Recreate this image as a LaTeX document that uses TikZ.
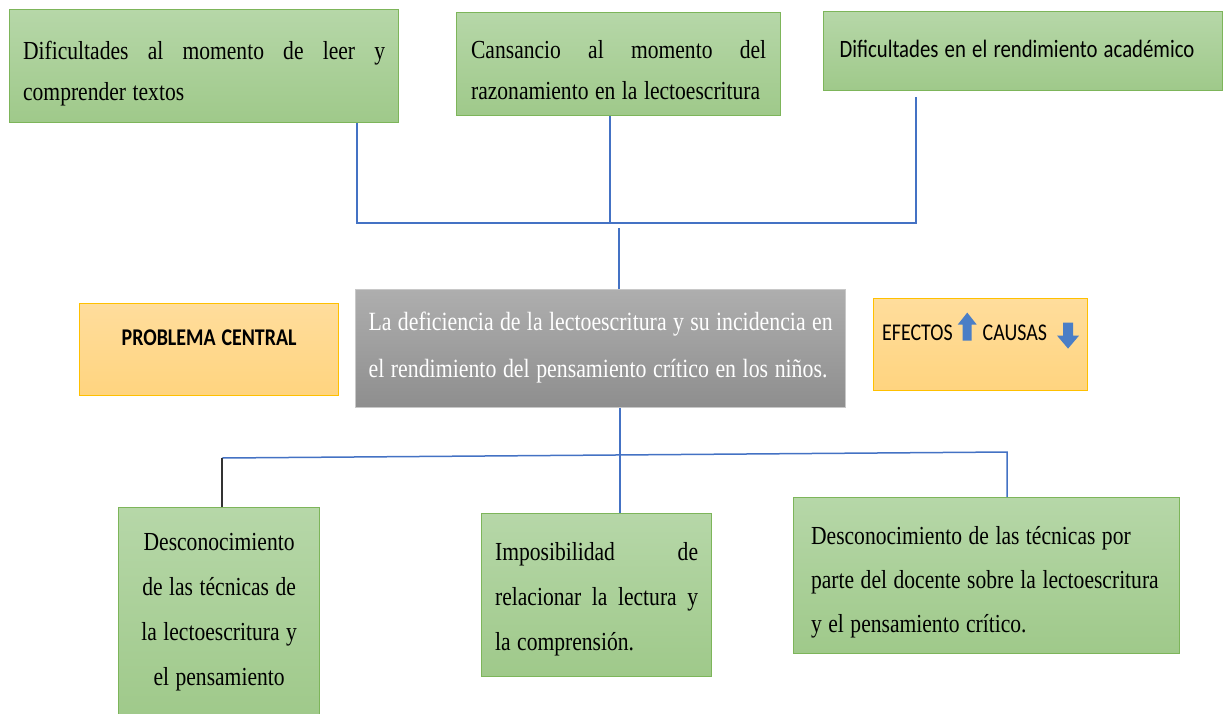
\documentclass[tikz,border=0pt]{standalone}
\usepackage{fontspec}
\setmainfont[FakeStretch=0.83]{Liberation Serif}
\newfontfamily\calibri[FakeStretch=0.83]{Carlito}
\usetikzlibrary{positioning}

\definecolor{leafgreen}{HTML}{7DB55A}
\definecolor{greentop}{HTML}{B6D7A8}
\definecolor{greenbottom}{HTML}{9FC98A}
\definecolor{goldedge}{HTML}{FFC000}
\definecolor{goldtop}{HTML}{FFDD9C}
\definecolor{goldbottom}{HTML}{FFD47F}
\definecolor{greyedge}{HTML}{C8C8C8}
\definecolor{greytop}{HTML}{AEAEAE}
\definecolor{greybottom}{HTML}{8E8E8E}
\definecolor{linkblue}{HTML}{4472C4}
\definecolor{arrowblue}{HTML}{4A7EC6}

\newcommand{\spreadline}[1]{\makebox[\linewidth][s]{#1}}
\newcommand{\upicon}{\tikz[baseline=0pt,x=1pt,y=1pt]\fill[arrowblue] (5,0) -- (14,0) -- (14,16) -- (19,16) -- (9.5,28) -- (0,16) -- (5,16) -- cycle;}
\newcommand{\downicon}{\tikz[baseline=0pt,x=1pt,y=1pt]\fill[arrowblue] (6,18) -- (16,18) -- (16,5) -- (22,5) -- (11,-8) -- (0,5) -- (6,5) -- cycle;}

\begin{document}
\begin{tikzpicture}[x=1pt, y=-1pt,
    execute at begin node={\spaceskip=.25em plus 2em minus .05em\xspaceskip=\spaceskip},
    box/.style={anchor=north west, inner sep=0pt, line width=1.2pt},
    greenbox/.style={box, draw=leafgreen, top color=greentop, bottom color=greenbottom},
    goldbox/.style={box, draw=goldedge, top color=goldtop, bottom color=goldbottom, font=\calibri\fontsize{24}{29}\selectfont},
    topfont/.style={font=\fontsize{26}{41}\selectfont},
    lowfont/.style={font=\fontsize{26}{45}\selectfont},
    link/.style={linkblue, line width=1.5pt}]
    \useasboundingbox[fill=white] (0,0) rectangle (1229,713);

    \node[greenbox, topfont, minimum width=389pt, minimum height=113pt, text width=362pt, text height=50pt, text depth=63pt] (readissue) at (9,9)
        {\spreadline{Dificultades al momento de leer y}\\comprender textos};
    \node[greenbox, topfont, minimum width=324pt, minimum height=103pt, text width=295pt, text height=46pt, text depth=57pt] (fatigue) at (456,12)
        {\spreadline{Cansancio al momento del}\\razonamiento en la lectoescritura};
    \node[greenbox, font=\calibri\fontsize{25}{30}\selectfont, minimum width=399pt, minimum height=79pt, text width=367pt, text height=46pt, text depth=33pt] (academic) at (823,11)
        {Dificultades en el rendimiento académico};

    \node[goldbox, minimum width=259pt, minimum height=92pt, text height=42pt, text depth=50pt] (coreproblem) at (79,303)
        {\bfseries PROBLEMA CENTRAL};
    \node[box, draw=greyedge, top color=greytop, bottom color=greybottom, text=white, font=\fontsize{26.3}{47}\selectfont,
        minimum width=490pt, minimum height=118pt, text width=464pt, text height=41pt, text depth=77pt] (central) at (355,289)
        {La deficiencia de la lectoescritura y su incidencia en\\el rendimiento del pensamiento crítico en los niños.};
    \node[goldbox, minimum width=214pt, minimum height=92pt, text height=42pt, text depth=50pt] (legend) at (873,298)
        {EFECTOS\hspace{5pt}\upicon\hspace{6pt}CAUSAS\hspace{10pt}\downicon};

    \node[greenbox, lowfont, minimum width=201pt, minimum height=211pt, text width=185pt, text height=43pt, text depth=168pt] (causeA) at (118,507)
        {\centering Desconocimiento\\de las técnicas de\\la lectoescritura y\\el pensamiento\par};
    \node[greenbox, lowfont, minimum width=230pt, minimum height=163pt, text width=203pt, text height=47pt, text depth=116pt] (causeB) at (481,513)
        {\spreadline{Imposibilidad de}\\\spreadline{relacionar la lectura y}\\la comprensión.};
    \node[greenbox, font=\fontsize{26}{44}\selectfont, minimum width=386pt, minimum height=156pt, text width=351pt, text height=47pt, text depth=109pt] (causeC) at (793,497)
        {Desconocimiento de las técnicas por\\parte del docente sobre la lectoescritura\\y el pensamiento crítico.};

    \coordinate (busleft) at (357,223);
    \coordinate (busright) at (916,223);
    \coordinate (academicdrop) at (916,97);
    \coordinate (fatiguedrop) at (610,223);
    \coordinate (centraltop) at (619,228);
    \coordinate (lowleft) at (222,458);
    \coordinate (lowmid) at (620,455);
    \coordinate (lowright) at (1007,452);

    \draw[link] (readissue.south -| busleft) -- (busleft) -- (busright) -- (academicdrop);
    \draw[link] (fatigue.south -| fatiguedrop) -- (fatiguedrop);
    \draw[link] (central.north -| centraltop) -- (centraltop);

    \draw[link] (central.south -| lowmid) -- (lowmid);
    \draw[link] (lowleft) -- (lowright) -- (lowright |- causeC.north);
    \draw[link] (lowmid) -- (lowmid |- causeB.north);
    \draw[black!80, line width=1.5pt] (lowleft) -- (lowleft |- causeA.north);
\end{tikzpicture}
\end{document}
